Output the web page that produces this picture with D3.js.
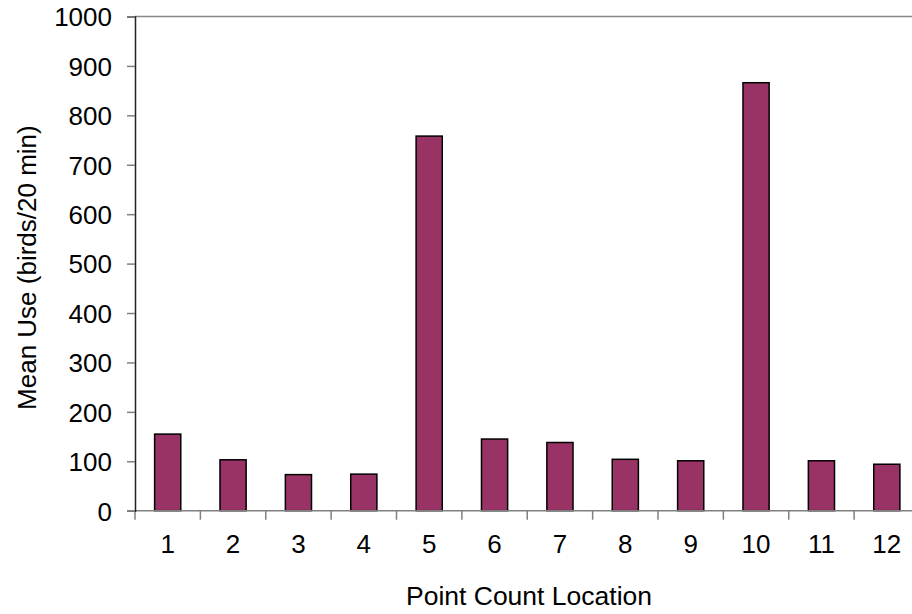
<!DOCTYPE html>
<html>
<head>
<meta charset="utf-8">
<script src="https://cdn.jsdelivr.net/npm/d3@7"></script>
<style>
  body { margin: 0; background: #fff; }
  svg { display: block; font-family: "Liberation Sans", Arial, sans-serif; }
</style>
</head>
<body>
<div id="chart"></div>
<script>
// Data
let locations = ["1", "2", "3", "4", "5", "6", "7", "8", "9", "10", "11", "12"];
let meanUse = [155, 103, 73, 74, 758, 145, 138, 104, 101, 866, 101, 94];
let yTicks = [0, 100, 200, 300, 400, 500, 600, 700, 800, 900, 1000];

let W = 912, H = 614;
let plot = { left: 135, right: 919.5, top: 16.5, bottom: 510.7 };

let svg = d3
  .select("#chart")
  .append("svg")
  .attr("width", W)
  .attr("height", H);

let x = d3.scaleBand().domain(locations).range([plot.left, plot.right]).padding(0);
let y = d3.scaleLinear().domain([0, 1000]).range([plot.bottom, plot.top]);

// plot area border (top edge, gray)
svg
  .append("line")
  .attr("x1", plot.left)
  .attr("x2", plot.right)
  .attr("y1", plot.top)
  .attr("y2", plot.top)
  .attr("stroke", "#888")
  .attr("stroke-width", 1.5);

// bars
let barW = x.bandwidth() * 0.4;
svg
  .selectAll(".bar")
  .data(locations)
  .enter()
  .append("rect")
  .attr("class", "bar")
  .attr("x", (d) => x(d) + x.bandwidth() / 2 - barW / 2)
  .attr("y", (d, i) => y(meanUse[i]))
  .attr("width", barW)
  .attr("height", (d, i) => y(0) - y(meanUse[i]))
  .attr("fill", "#993366")
  .attr("stroke", "#000")
  .attr("stroke-width", 1.5);

// X axis: ticks at band boundaries
let xAxis = svg
  .append("g")
  .attr("transform", `translate(0,${plot.bottom})`);

xAxis
  .append("line")
  .attr("x1", plot.left)
  .attr("x2", plot.right)
  .attr("stroke", "#808080")
  .attr("stroke-width", 1.5);

let bounds = locations.map((d) => x(d)).concat([plot.right]);
xAxis
  .selectAll(".xtick")
  .data(bounds)
  .enter()
  .append("line")
  .attr("class", "xtick")
  .attr("x1", (d) => d)
  .attr("x2", (d) => d)
  .attr("y1", 0)
  .attr("y2", 9)
  .attr("stroke", "#808080")
  .attr("stroke-width", 1.5);

xAxis
  .selectAll(".xlabel")
  .data(locations)
  .enter()
  .append("text")
  .attr("class", "xlabel")
  .attr("x", (d) => x(d) + x.bandwidth() / 2)
  .attr("y", 42)
  .attr("text-anchor", "middle")
  .style("font-size", "26px")
  .attr("fill", "#000")
  .text((d) => d);

// Y axis
let yAxis = svg
  .append("g")
  .attr("transform", `translate(${plot.left},0)`)
  .call(
    d3.axisLeft(y)
      .tickValues(yTicks)
      .tickFormat(d3.format("d"))
      .tickSize(8)
      .tickPadding(15)
  );

yAxis.select(".domain").attr("stroke", "#222").attr("stroke-width", 1.5);
yAxis.selectAll(".tick line").attr("stroke", "#808080").attr("stroke-width", 1.5);
yAxis
  .selectAll(".tick text")
  .style("font-size", "26px")
  .style("font-family", "Liberation Sans, Arial, sans-serif")
  .attr("fill", "#000")
  .attr("dy", "0.36em");

// Axis titles
svg
  .append("text")
  .attr("x", 529)
  .attr("y", 605)
  .attr("text-anchor", "middle")
  .style("font-size", "26.5px")
  .text("Point Count Location");

svg
  .append("text")
  .attr("transform", `translate(36,${(plot.top + plot.bottom) / 2 + 4}) rotate(-90)`)
  .attr("text-anchor", "middle")
  .style("font-size", "26px")
  .text("Mean Use (birds/20 min)");
</script>
</body>
</html>
